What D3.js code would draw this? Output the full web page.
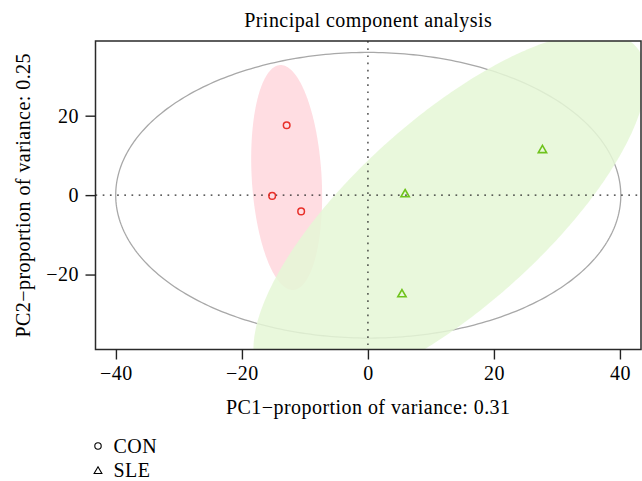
<!DOCTYPE html>
<html>
<head>
<meta charset="utf-8">
<script src="https://cdn.jsdelivr.net/npm/d3@7"></script>
<style>
  body { margin: 0; background: #fff; }
  text { font-family: "Liberation Serif", "Times New Roman", serif; fill: #000; }
</style>
</head>
<body>
<svg id="chart" width="642" height="481"></svg>
<script>
// PCA scores per group
const groups = ["CON", "SLE"];
const conPC1 = [-12.9, -15.2, -10.6];
const conPC2 = [17.6, -0.2, -4.1];
const slePC1 = [27.7, 5.9, 5.4];
const slePC2 = [11.3, 0.2, -25.0];
const xTicks = [-40, -20, 0, 20, 40];
const yTicks = [-20, 0, 20];
const varExplained = [0.31, 0.25];
const ellipseLevel = 0.95;

const W = 642, H = 481;
const plot = { left: 95.5, right: 641, top: 41, bottom: 349.5 };
const fontSize = 20, letterSp = 0.45;

// Normal-theory confidence ellipse from the sample covariance
function dataEllipse(xs, ys, level, n = 360) {
  const k = xs.length;
  const mx = d3.mean(xs), my = d3.mean(ys);
  let sxx = 0, syy = 0, sxy = 0;
  for (let i = 0; i < k; i++) {
    const dx = xs[i] - mx, dy = ys[i] - my;
    sxx += dx * dx; syy += dy * dy; sxy += dx * dy;
  }
  sxx /= (k - 1); syy /= (k - 1); sxy /= (k - 1);
  const half = (sxx + syy) / 2;
  const disc = Math.sqrt(((sxx - syy) / 2) ** 2 + sxy * sxy);
  const l1 = half + disc, l2 = Math.max(half - disc, 0);
  let theta;
  if (Math.abs(sxy) < 1e-9) theta = sxx >= syy ? 0 : Math.PI / 2;
  else theta = Math.atan2(l1 - sxx, sxy);
  const r = Math.sqrt(-2 * Math.log(1 - level)); // sqrt(qchisq(level, 2))
  const a = r * Math.sqrt(l1), b = r * Math.sqrt(l2);
  const c = Math.cos(theta), s = Math.sin(theta);
  return d3.range(n).map(i => {
    const t = 2 * Math.PI * i / n;
    const u = a * Math.cos(t), v = b * Math.sin(t);
    return [mx + u * c - v * s, my + u * s + v * c];
  });
}

const allPC1 = conPC1.concat(slePC1);
const allPC2 = conPC2.concat(slePC2);
const allEll = dataEllipse(allPC1, allPC2, ellipseLevel);
const conEll = dataEllipse(conPC1, conPC2, ellipseLevel);
const sleEll = dataEllipse(slePC1, slePC2, ellipseLevel);

// axis limits follow the overall ellipse with a 4% margin
function padded(ext) { const d = (ext[1] - ext[0]) * 0.04; return [ext[0] - d, ext[1] + d]; }
const xDom = padded(d3.extent(allEll, d => d[0]));
const yDom = padded(d3.extent(allEll, d => d[1]));

const x = d3.scaleLinear().domain(xDom).range([plot.left, plot.right]);
const y = d3.scaleLinear().domain(yDom).range([plot.bottom, plot.top]);

const svg = d3.select("#chart");
svg.append("rect").attr("width", W).attr("height", H).attr("fill", "#fff");

svg.append("defs").append("clipPath").attr("id", "plotClip")
  .append("rect")
  .attr("x", plot.left).attr("y", plot.top)
  .attr("width", plot.right - plot.left).attr("height", plot.bottom - plot.top);

const line = d3.line().x(d => x(d[0])).y(d => y(d[1])).curve(d3.curveLinearClosed);
const g = svg.append("g").attr("clip-path", "url(#plotClip)");

g.append("path").attr("d", line(allEll))
  .attr("fill", "none").attr("stroke", "#a8a8a8").attr("stroke-width", 1.3);
g.append("path").attr("d", line(conEll)).attr("fill", "#ffdde2");
g.append("path").attr("d", line(sleEll)).attr("fill", "rgb(229,247,214)").attr("fill-opacity", 0.85);

// reference lines through the origin
g.append("line")
  .attr("x1", plot.left).attr("x2", plot.right).attr("y1", y(0)).attr("y2", y(0))
  .attr("stroke", "#2a2a2a").attr("stroke-width", 1.25).attr("stroke-dasharray", "1.7 5.5");
g.append("line")
  .attr("x1", x(0)).attr("x2", x(0)).attr("y1", plot.top).attr("y2", plot.bottom)
  .attr("stroke", "#2a2a2a").attr("stroke-width", 1.25).attr("stroke-dasharray", "1.7 5.5");

// sample points
const conColor = "#e8302a", sleColor = "#6fc31c";
const circle = d3.symbol().type(d3.symbolCircle).size(Math.PI * 3.3 * 3.3);
const tri = d3.symbol().type(d3.symbolTriangle).size(30);

g.selectAll("path.con").data(d3.zip(conPC1, conPC2)).join("path")
  .attr("class", "con").attr("d", circle)
  .attr("transform", d => `translate(${x(d[0])},${y(d[1])})`)
  .attr("fill", "none").attr("stroke", conColor).attr("stroke-width", 1.5);
g.selectAll("path.sle").data(d3.zip(slePC1, slePC2)).join("path")
  .attr("class", "sle").attr("d", tri)
  .attr("transform", d => `translate(${x(d[0])},${y(d[1])})`)
  .attr("fill", "none").attr("stroke", sleColor).attr("stroke-width", 1.6);

// frame
svg.append("rect")
  .attr("x", plot.left).attr("y", plot.top)
  .attr("width", plot.right - plot.left).attr("height", plot.bottom - plot.top)
  .attr("fill", "none").attr("stroke", "#2a2a2a").attr("stroke-width", 1.5);

// axes
const xAxis = svg.append("g").attr("transform", `translate(0,${plot.bottom})`)
  .call(d3.axisBottom(x).tickValues(xTicks).tickSize(10).tickPadding(6.3)
    .tickFormat(d => d < 0 ? "\u2212" + Math.abs(d) : d));
const yAxis = svg.append("g").attr("transform", `translate(${plot.left},0)`)
  .call(d3.axisLeft(y).tickValues(yTicks).tickSize(10).tickPadding(6.5)
    .tickFormat(d => d < 0 ? "\u2212" + Math.abs(d) : d));
[xAxis, yAxis].forEach(a => {
  a.select(".domain").remove();
  a.selectAll(".tick line").attr("stroke", "#222").attr("stroke-width", 1.4);
  a.selectAll(".tick text").attr("font-size", fontSize).attr("letter-spacing", letterSp)
    .attr("font-family", "Liberation Serif").attr("fill", "#000");
});

// titles
const cx = (plot.left + plot.right) / 2, cy = (plot.top + plot.bottom) / 2;
svg.append("text").attr("x", cx).attr("y", 26.5).attr("text-anchor", "middle")
  .attr("font-size", fontSize).attr("letter-spacing", letterSp)
  .text("Principal component analysis");
svg.append("text").attr("x", cx).attr("y", 413.5).attr("text-anchor", "middle")
  .attr("font-size", fontSize).attr("letter-spacing", letterSp)
  .text(`PC1\u2212proportion of variance: ${varExplained[0]}`);
svg.append("text").attr("transform", `translate(30,${cy}) rotate(-90)`)
  .attr("text-anchor", "middle")
  .attr("font-size", fontSize).attr("letter-spacing", letterSp)
  .text(`PC2\u2212proportion of variance: ${varExplained[1]}`);

// legend
const legend = svg.append("g");
const legSym = [d3.symbol().type(d3.symbolCircle).size(Math.PI * 3.2 * 3.2),
                d3.symbol().type(d3.symbolTriangle).size(26)];
groups.forEach((name, i) => {
  const ly = 446 + i * 24.5;
  legend.append("path").attr("d", legSym[i]())
    .attr("transform", `translate(98,${ly + (i ? 0.8 : 0)})`)
    .attr("fill", "none").attr("stroke", "#000").attr("stroke-width", 1.1);
  legend.append("text").attr("x", 113.5).attr("y", ly + 6.5)
    .attr("font-size", fontSize).attr("letter-spacing", letterSp).text(name);
});
</script>
</body>
</html>
